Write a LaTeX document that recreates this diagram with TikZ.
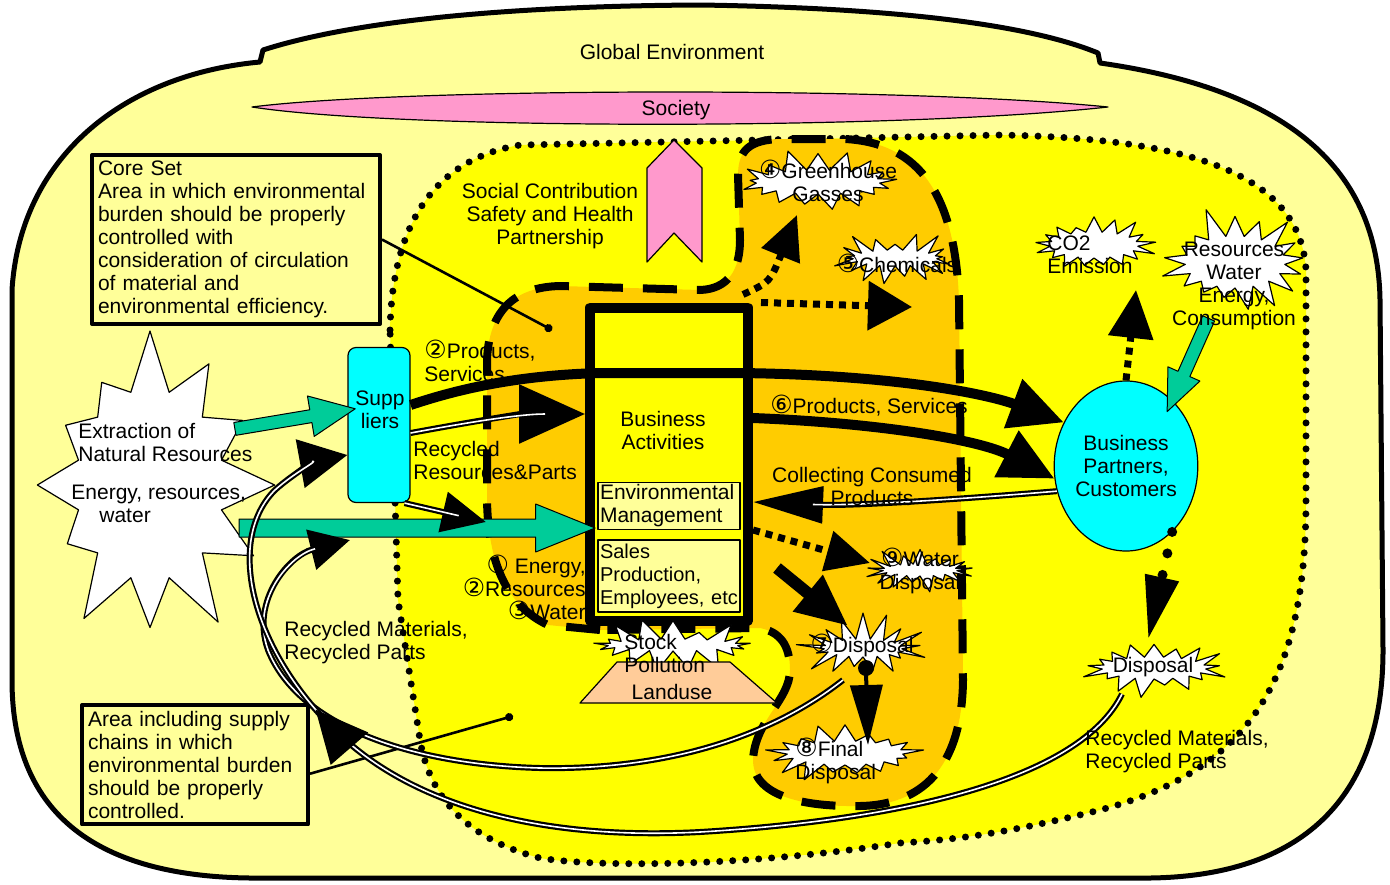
\documentclass[tikz,border=0pt]{standalone}
\usepackage{fontspec}
\setmainfont{Liberation Sans}
\newfontfamily\circfont{DejaVu Sans}
\usetikzlibrary{arrows.meta,calc,shapes.geometric,shapes.symbols,shapes.arrows,decorations.markings}

\definecolor{envyellow}{RGB}{255,255,153}
\definecolor{chainyellow}{RGB}{255,255,0}
\definecolor{coreorange}{RGB}{255,204,0}
\definecolor{socpink}{RGB}{255,153,204}
\definecolor{flowgreen}{RGB}{0,204,153}
\definecolor{landpeach}{RGB}{255,204,153}
\definecolor{actcyan}{RGB}{0,255,255}

\newcommand{\cnum}[1]{{\circfont\fontsize{12.5}{11.5}\selectfont #1}}

\tikzset{
  burst/.style={starburst, draw=black, fill=white, line width=0.6pt, inner sep=0pt, starburst point height=#1},
  burst/.default=11pt,
  lbl/.style={inner sep=0pt, align=center},
  band/.style={line width=5pt, -{Triangle[length=27pt,width=25pt]}},
  dbl/.style={line width=3pt, postaction={draw=white, line width=0.8pt, arrows=-, shorten >=#1}},
  dbl/.default=18pt,
  sqdot/.style={line width=3.5pt, dash pattern=on 3.5pt off 3pt},
  rdot/.style={line width=5pt, line cap=round, dash pattern=on 0pt off 11pt},
  garrow/.style={single arrow, draw=black, fill=flowgreen, line width=0.5pt, inner sep=0pt},
  cbox/.style={draw=black, line width=2pt, fill=envyellow, align=left, inner sep=3pt, anchor=north west},
}

\begin{document}
\begin{tikzpicture}[x=0.5pt, y=-0.5pt, font=\fontsize{10.5}{11.5}\selectfont, line join=round]
\useasboundingbox (0,0) rectangle (1390,884);

% global environment
\draw[fill=envyellow, line width=2.5pt] (12,450) -- (12,290) .. controls (20,160) and (120,75) .. (260,62) -- (263,50)
  .. controls (350,22) and (500,6) .. (700,5) .. controls (900,8) and (1030,25) .. (1098,53) -- (1100,63)
  .. controls (1290,90) and (1378,170) .. (1380,300) -- (1383,650) .. controls (1383,800) and (1300,876) .. (1150,878)
  -- (250,878) .. controls (80,876) and (12,800) .. (12,680) -- cycle;
\draw[fill=socpink, line width=.6pt] (252,107) .. controls (400,88) and (900,86) .. (1108,107)
  .. controls (900,130) and (400,130) .. cycle;

% supply chain area
\draw[fill=chainyellow, line width=3.5pt, line cap=round, dash pattern=on 0pt off 6.5pt]
  (390,330) .. controls (392,230) and (430,160) .. (520,145) -- (1000,135)
  .. controls (1180,138) and (1300,170) .. (1306,270) -- (1306,500)
  .. controls (1306,680) and (1250,770) .. (1100,810) .. controls (1000,835) and (950,840) .. (900,843)
  .. controls (750,866) and (600,868) .. (540,858) .. controls (470,840) and (430,800) .. (420,740)
  -- (398,600) -- cycle;

% core set
\draw[fill=coreorange, line width=4pt, dash pattern=on 17pt off 10pt]
  (600,630) -- (548,625) .. controls (505,605) and (488,560) .. (487,500) -- (487,360)
  .. controls (489,310) and (515,287) .. (560,286) -- (700,290) .. controls (728,289) and (740,270) .. (740,240)
  -- (738,175) .. controls (738,150) and (750,140) .. (780,139) -- (845,139)
  .. controls (920,143) and (955,195) .. (959,300) -- (963,680) .. controls (962,770) and (920,805) .. (860,806)
  .. controls (800,807) and (753,795) .. (753,760) .. controls (755,720) and (790,700) .. (790,670)
  .. controls (790,645) and (780,632) .. (760,628) -- cycle;

\node[cbox, text width=138pt] (core) at (90,153) {Core Set\\Area in which environmental\\burden should be properly\\controlled with\\consideration of circulation\\of material and\\environmental efficiency.};
\node[cbox, text width=107pt] (area) at (80,703) {Area including supply\\chains in which\\environmental burden\\should be properly\\controlled.};

\draw[fill=socpink, line width=.6pt] (647,262) -- (647,168) -- (674,140) -- (702,168) -- (702,262) -- (674,233) -- cycle;

\draw[line width=1.3pt, -{Circle[length=4pt]}] (core.east) -- (552,330);
\draw[line width=1.3pt, -{Circle[length=4pt]}] ([yshift=-4.5pt]area.east) -- (513,716);

% actors
\node[draw=black, line width=5pt, fill=chainyellow, minimum width=79pt, minimum height=156.5pt, inner sep=0pt] (ba) at (669,464) {};
\node[draw=black, line width=.6pt, fill=envyellow, minimum width=71pt, minimum height=21pt, inner sep=1pt, text width=69pt, align=left] (env) at (669,506) {Environmental\\Management};
\node[draw=black, line width=.6pt, fill=envyellow, minimum width=71pt, minimum height=36pt, inner sep=1pt, text width=69pt, align=left, font=\fontsize{10}{11.5}\selectfont] (sales) at (669,576) {Sales\\Production,\\Employees, etc};
\node[draw=black, line width=.6pt, fill=actcyan, rounded corners=4pt, minimum width=31pt, minimum height=77.5pt, inner sep=0pt] (sup) at (379,425) {};
\node[ellipse, draw=black, line width=.6pt, fill=actcyan, minimum width=58.5pt, minimum height=85pt, inner sep=0pt, align=center] (bp) at (1126,466) {Business\\Partners,\\Customers};

% bursts
\node[burst=32pt, starburst points=12, random starburst=7, minimum width=138pt, minimum height=160pt] (extr) at (150,485) {};
\node[burst, minimum width=84pt, minimum height=34pt, random starburst=11] (ghg) at (818,182) {};
\node[burst, minimum width=64pt, minimum height=30pt, random starburst=23] (chem) at (895,258) {};
\node[burst, minimum width=66pt, minimum height=35pt, random starburst=31] (co2) at (1094,245) {};
\node[burst=16pt, minimum width=82pt, minimum height=58pt, random starburst=5] (res) at (1235,262) {};
\node[burst, minimum width=59pt, minimum height=28pt, random starburst=41] (wdis) at (920,570) {};
\node[burst=14pt, minimum width=67pt, minimum height=37pt, random starburst=53] (disp) at (863,648) {};
\node[burst, minimum width=80pt, minimum height=34pt, random starburst=67] (fdis) at (845,753) {};
\node[burst, minimum width=74pt, minimum height=33pt, random starburst=71] (rdis) at (1154,668) {};
\node[burst, minimum width=87pt, minimum height=28pt, random starburst=83] (stock) at (673,645) {};
\draw[fill=landpeach, line width=.6pt] (580,703) -- (617,662) -- (730,662) -- (777,703) -- cycle;

% flows
\node[garrow, minimum height=61pt, minimum width=20pt, single arrow head extend=7pt, single arrow tip angle=49, inner ysep=3pt, rotate=9.5] (g1) at (288,420) {};
\node[garrow, minimum height=178pt, minimum width=23.5pt, single arrow head extend=7.5pt, single arrow tip angle=44, inner ysep=4.25pt] (g2) at (406,528) {};
\node[garrow, minimum height=51pt, minimum width=17pt, single arrow head extend=5.5pt, single arrow tip angle=46, inner ysep=3pt, rotate=-114] (g3) at (1191,358) {};

\draw[band] ([yshift=10pt]sup.east) .. controls (470,385) and (530,375) .. (600,373) -- (740,373)
  .. controls (900,375) and (990,395) .. (bp.145);
\draw[band] ([yshift=23pt]ba.east) .. controls (880,423) and (980,440) .. (bp.190);
\draw[dbl=30pt, -{Triangle[length=35pt,width=18pt]}] (bp.200) .. controls (950,500) and (850,506) .. ([yshift=-19pt]ba.east);
\draw[dbl=20pt, -{Triangle[length=33pt,width=29pt]}] ([yshift=-4pt]sup.east) .. controls (470,422) and (520,414) .. ([yshift=25pt]ba.west);
\draw[dbl=14pt, -{Triangle[length=22pt,width=20pt]}] ([xshift=-3pt]sup.south east) -- (486,522);
\draw[dbl, -{Triangle[length=20pt,width=20pt]}] ($(disp)+(-20,32)$) .. controls (760,745) and (650,770) .. (540,768)
  .. controls (420,765) and (300,730) .. (268,650) .. controls (250,600) and (290,555) .. (350,540);
\draw[dbl, -{Triangle[length=24pt,width=24pt]}, postaction={decorate},
  decoration={markings, mark=at position 0.73 with {\arrow{Triangle[length=26pt,width=24pt]}}}]
  ($(rdis)+(-32,26)$) .. controls (1080,780) and (900,820) .. (700,832) .. controls (550,840) and (420,810) .. (340,735)
  .. controls (250,650) and (225,540) .. (275,490) .. controls (295,472) and (320,460) .. ([yshift=-15pt]sup.west);

\draw[sqdot, -{Triangle[length=22pt,width=20pt]}] ([xshift=-5pt,yshift=4pt]ba.north east) .. controls (770,282) .. (797,215);
\draw[sqdot, -{Triangle[length=22pt,width=24pt]}] ([xshift=4pt]ba.north east) -- (912,307);
\draw[sqdot, -{Triangle[length=24pt,width=22pt]}] (bp.north) -- (1136,290);
\draw[sqdot, -{Triangle[length=22pt,width=20pt]}] ([yshift=-33pt]ba.east) -- (870,563);
\draw[rdot, -{Triangle[length=32pt,width=16pt]}] (bp.-55) -- (1148,640);
\draw[line width=6pt, -{Triangle[length=26pt,width=22pt]}] ([xshift=12pt,yshift=-52pt]ba.east) -- (848,626);
\fill (866,668) circle (4pt);
\draw[line width=2pt, -{Triangle[length=30pt,width=16pt]}] (866,672) -- (868,745);

% texts
\node[lbl] at (672,52) {Global Environment};
\node[lbl] at (676,110) {Society};
\node[lbl] at (550,216) {Social Contribution\\Safety and Health\\Partnership};
\node[lbl] at (380,410) {Supp\\liers};
\node[lbl] at (663,430) {Business\\Activities};
\node[lbl, align=left, anchor=west] at (78,442) {Extraction of\\Natural Resources};
\node[lbl, align=left, anchor=west] at (71,504) {Energy, resources,\\\hspace*{14pt}water};
\node[lbl, align=left, anchor=west] at (424,361) {\cnum{②}Products,\\Services};
\node[lbl, align=left, anchor=west] at (413,460) {Recycled\\Resources\&Parts};
\node[lbl, align=right, anchor=east] at (586,587) {\cnum{①} Energy,\\\cnum{②}Resources\\\cnum{③}Water};
\node[lbl] at (869,406) {\cnum{⑥}Products, Services};
\node[lbl] at (872,486) {Collecting Consumed\\Products};
\node[lbl, align=left, anchor=west] at (284,643) {Recycled Materials,\\Recycled Parts};
\node[lbl, align=left, anchor=west] at (1085,752) {Recycled Materials,\\Recycled Parts};
\node[lbl] at (828,181) {\cnum{④}Greenhouse\\Gasses};
\node[lbl] at (897,263) {\cnum{⑤}Chemicals};
\node[lbl, align=left, anchor=west] at (1047,255) {CO2\\Emission};
\node[lbl] at (1234,286) {Resources\\Water\\Energy,\\Consumption};
\node[lbl] at (920,571) {\cnum{⑨}Water\\Disposal};
\node[lbl] at (862,645) {\cnum{⑦}Disposal};
\node[lbl, align=left, anchor=west] at (795,761) {\cnum{⑧}Final\\Disposal};
\node[lbl] at (1153,667) {Disposal};
\node[lbl, align=left, anchor=west] at (624,653) {Stock\\Pollution};
\node[lbl] at (672,692) {Landuse};
\end{tikzpicture}
\end{document}
